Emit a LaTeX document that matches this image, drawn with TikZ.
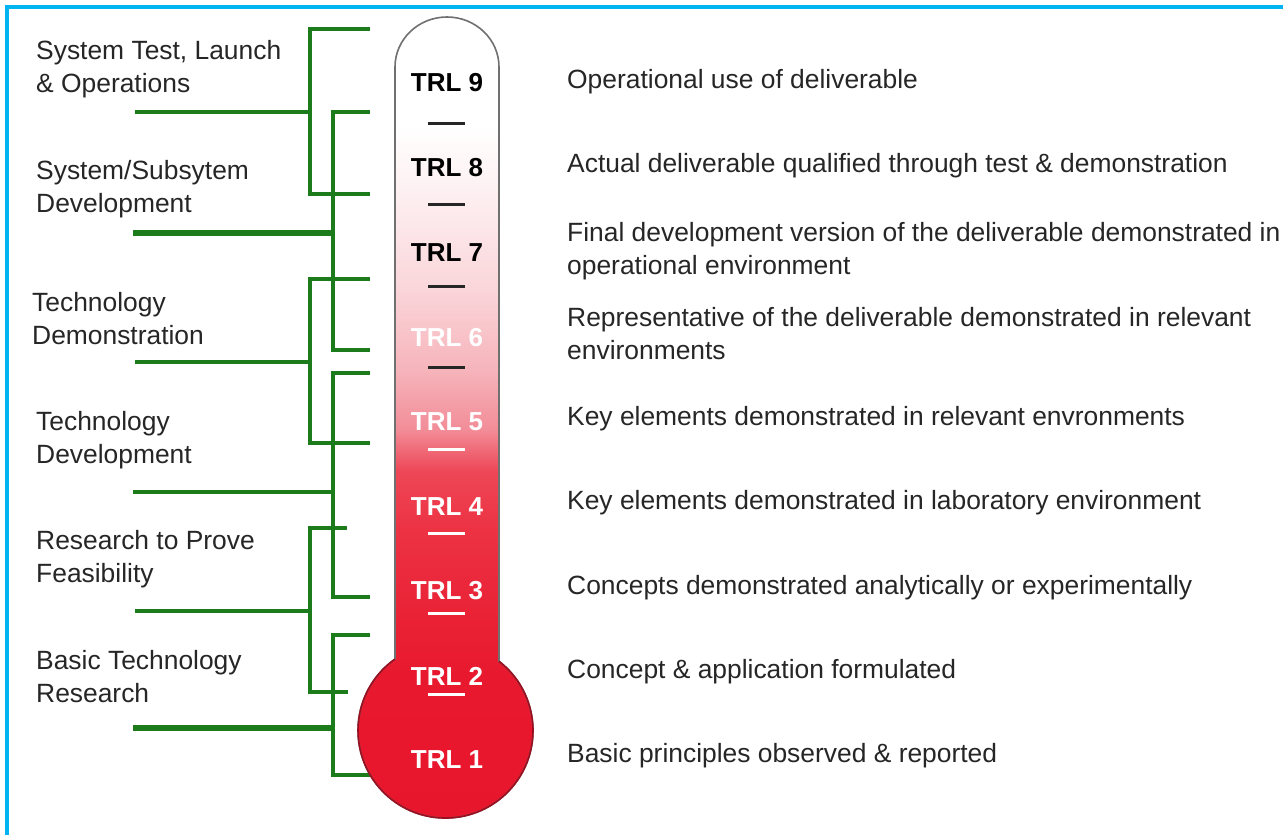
\documentclass[tikz,border=0pt]{standalone}
\usepackage{fontspec}
\setmainfont{Liberation Sans}
\definecolor{frameCyan}{HTML}{00B4F0}
\definecolor{trlGreen}{HTML}{1C7C1C}
\definecolor{txtGray}{HTML}{262626}
\definecolor{tubeEdge}{HTML}{707070}
\definecolor{bulbEdge}{HTML}{9A0F20}
\definecolor{bulbRed}{HTML}{E8162C}
\definecolor{gA}{HTML}{FFFFFF}
\definecolor{gB}{HTML}{FDEEF0}
\definecolor{gC}{HTML}{FAD5D9}
\definecolor{gD}{HTML}{F6B4BB}
\definecolor{gE}{HTML}{F28C97}
\definecolor{gF}{HTML}{EE4757}
\definecolor{gG}{HTML}{EC3243}
\definecolor{gH}{HTML}{EA2337}
\definecolor{gI}{HTML}{E8182E}
\begin{document}
\begin{tikzpicture}[x=1pt,y=-1pt,
  rtext/.style={anchor=north west,inner sep=0pt,align=left,text=txtGray,
                font=\fontsize{26.4}{32.5}\selectfont},
  trl/.style={anchor=center,inner sep=0pt,font=\fontsize{26}{30}\selectfont\bfseries},
  grn/.style={draw=trlGreen,line width=3.2pt},
  grnthick/.style={draw=trlGreen,line width=5.5pt},
  tick/.style={line width=3pt},
]
\useasboundingbox (0,0) rectangle (1283,835);
\fill[white] (0,0) rectangle (1283,835);
% frame on the top and left edges
\fill[frameCyan] (5,5) rectangle (1283,9);
\fill[frameCyan] (5,5) rectangle (9,835);

% ---- phase labels on the left ----
\node[rtext] (p1) at (36,40.5)  {System Test, Launch\\\& Operations};
\node[rtext] (p2) at (36,160.5) {System/Subsytem\\Development};
\node[rtext] (p3) at (32,292.5) {Technology\\Demonstration};
\node[rtext] (p4) at (36,411.5) {Technology\\Development};
\node[rtext] (p5) at (36,530.5) {Research to Prove\\Feasibility};
\node[rtext] (p6) at (36,650.5) {Basic Technology\\Research};

% ---- bracket spines and tick ends ----
\coordinate (spA) at (310,0);
\coordinate (spB) at (333,0);
% stems coming from the phase labels
\coordinate (s1) at (135,112);
\coordinate (s2) at (133,233);
\coordinate (s3) at (135,362);
\coordinate (s4) at (133,492);
\coordinate (s5) at (135,611);
\coordinate (s6) at (133,728);
% tick ends next to the tube
\coordinate (a1) at (370,29);  \coordinate (b1) at (370,194);
\coordinate (a2) at (370,112); \coordinate (b2) at (370,350);
\coordinate (a3) at (370,279); \coordinate (b3) at (370,443);
\coordinate (a4) at (370,373); \coordinate (b4) at (370,597);
\coordinate (a5) at (347,528); \coordinate (b5) at (348,692);
\coordinate (a6) at (370,635); \coordinate (b6) at (370,775);

\draw[grn] (a1) -- (a1 -| spA) -- (b1 -| spA) -- (b1);
\draw[grn] (s1) -- (s1 -| spA);
\draw[grn] (a2) -- (a2 -| spB) -- (b2 -| spB) -- (b2);
\draw[grnthick] (s2) -- (s2 -| spB);
\draw[grn] (a3) -- (a3 -| spA) -- (b3 -| spA) -- (b3);
\draw[grn] (s3) -- (s3 -| spA);
\draw[grn] (a4) -- (a4 -| spB) -- (b4 -| spB) -- (b4);
\draw[grn] (s4) -- (s4 -| spB);
\draw[grn] (a5) -- (a5 -| spA) -- (b5 -| spA) -- (b5);
\draw[grn] (s5) -- (s5 -| spA);
\draw[grn] (a6) -- (a6 -| spB) -- (b6 -| spB) -- (b6);
\draw[grnthick] (s6) -- (s6 -| spB);

% ---- thermometer ----
\def\thermopath{(395,659) -- (395,67) arc[start angle=180,end angle=360,x radius=52,y radius=50]
  -- (499,661.3) arc[start angle=-52.3,end angle=234.75,radius=87.5] -- cycle}
\begin{scope}
  \clip \thermopath;
  \shade[top color=gA,bottom color=gA] (340,10) rectangle (550,125.5);
  \shade[top color=gA,bottom color=gB] (340,125) rectangle (550,200.5);
  \shade[top color=gB,bottom color=gC] (340,200) rectangle (550,290.5);
  \shade[top color=gC,bottom color=gD] (340,290) rectangle (550,370.5);
  \shade[top color=gD,bottom color=gE] (340,370) rectangle (550,430.5);
  \shade[top color=gE,bottom color=gF] (340,430) rectangle (550,470.5);
  \shade[top color=gF,bottom color=gG] (340,470) rectangle (550,530.5);
  \shade[top color=gG,bottom color=gH] (340,530) rectangle (550,610.5);
  \shade[top color=gH,bottom color=gI] (340,610) rectangle (550,680.5);
  \shade[top color=gI,bottom color=bulbRed] (340,680) rectangle (550,830);
\end{scope}
\draw[tubeEdge,line width=1.6pt] \thermopath;
\draw[bulbEdge,line width=1.6pt] (499,661.3) arc[start angle=-52.3,end angle=234.75,radius=87.5];

% scale marks between the levels
\foreach \yy in {123,204,286,367}
  \draw[txtGray,tick] (428,\yy) -- (465,\yy);
\foreach \yy in {449,533,613,694}
  \draw[white,tick] (428,\yy) -- (465,\yy);

% level names inside the tube
\node[trl,text=black] (t9) at (447,83)  {TRL 9};
\node[trl,text=black] (t8) at (447,168) {TRL 8};
\node[trl,text=black] (t7) at (447,253) {TRL 7};
\node[trl,text=white] (t6) at (447,338) {TRL 6};
\node[trl,text=white] (t5) at (447,422) {TRL 5};
\node[trl,text=white] (t4) at (447,507) {TRL 4};
\node[trl,text=white] (t3) at (447,591) {TRL 3};
\node[trl,text=white] (t2) at (447,676) {TRL 2};
\node[trl,text=white] (t1) at (447,760) {TRL 1};

% ---- level descriptions ----
\node[rtext] (d9) at (567,69.5)  {Operational use of deliverable};
\node[rtext] (d8) at (567,153.5) {Actual deliverable qualified through test \& demonstration};
\node[rtext] (d7) at (567,222.5) {Final development version of the deliverable demonstrated in\\operational environment};
\node[rtext] (d6) at (567,307.5) {Representative of the deliverable demonstrated in relevant\\environments};
\node[rtext] (d5) at (567,406.5) {Key elements demonstrated in relevant envronments};
\node[rtext] (d4) at (567,490.5) {Key elements demonstrated in laboratory environment};
\node[rtext] (d3) at (567,575.5) {Concepts demonstrated analytically or experimentally};
\node[rtext] (d2) at (567,659.5) {Concept \& application formulated};
\node[rtext] (d1) at (567,743.5) {Basic principles observed \& reported};
\end{tikzpicture}
\end{document}
